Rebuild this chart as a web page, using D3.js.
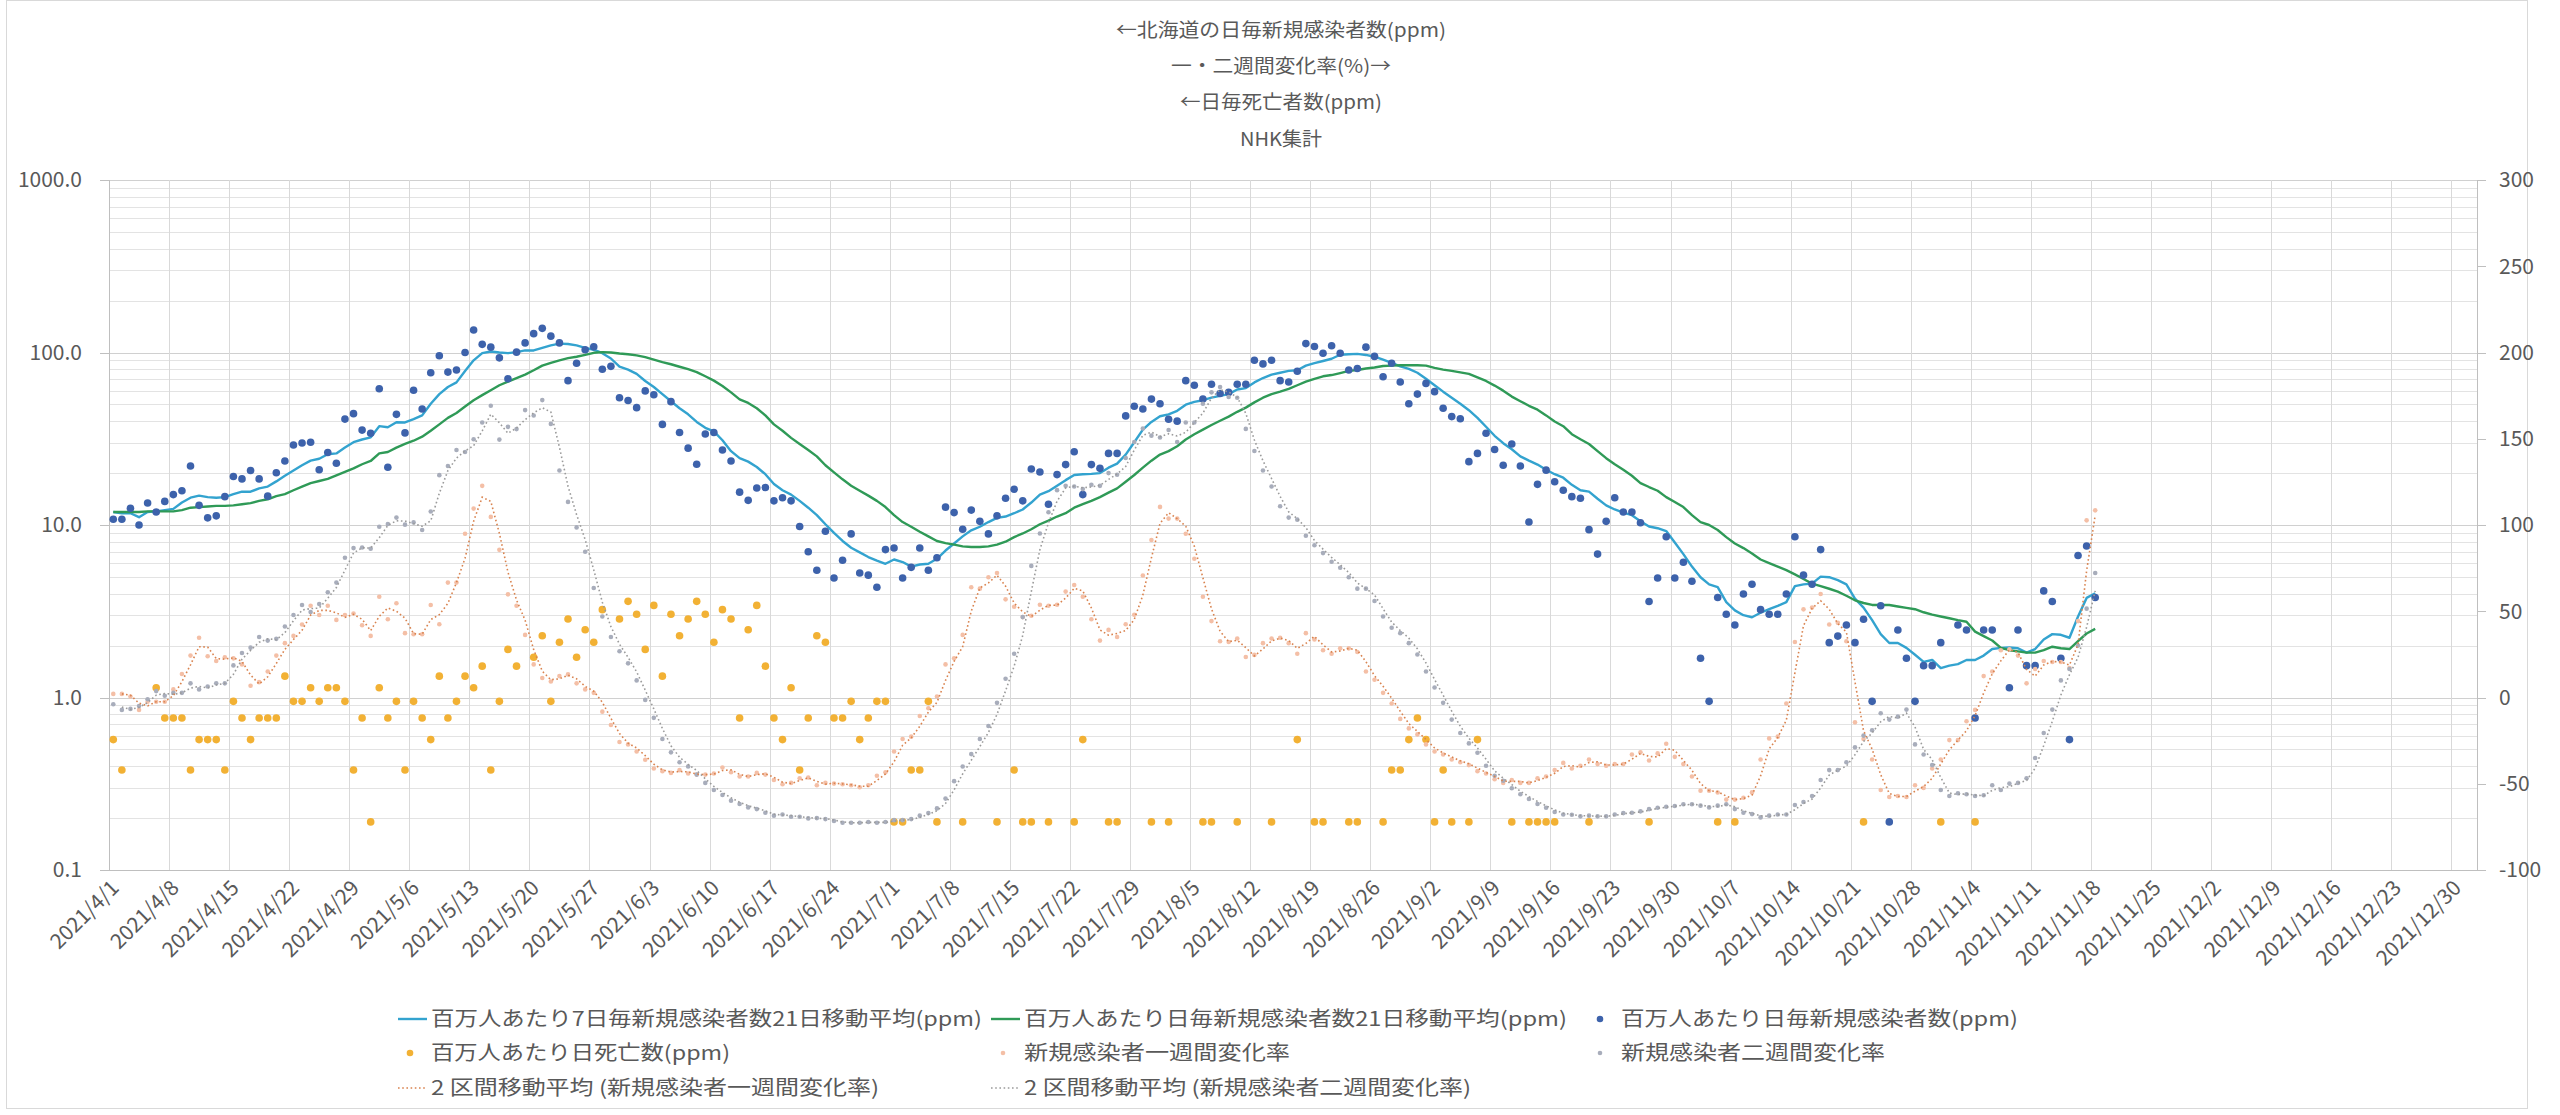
<!DOCTYPE html>
<html><head><meta charset="utf-8">
<script src="https://cdn.jsdelivr.net/npm/d3@7"></script>
<style>
html,body{margin:0;padding:0;background:#fff;}
svg{display:block;}
text{font-family:"Noto Sans CJK JP","Noto Sans",sans-serif;fill:#595959;}
</style></head><body>
<svg id="chart" width="2560" height="1115"></svg>
<script>
// ---------------- DATA ----------------
const startDate = "2021-04-01";          // first category (one value per day)
const axisEndDate = "2022-01-02";        // end of the date axis
const titleLines = ["←北海道の日毎新規感染者数(ppm)", "一・二週間変化率(%)→", "←日毎死亡者数(ppm)", "NHK集計"];
const leftTicks = [0.1, 1, 10, 100, 1000];
const rightTicks = [-100, -50, 0, 50, 100, 150, 200, 250, 300];
const seriesNames = [
  "百万人あたり7日毎新規感染者数21日移動平均(ppm)",
  "百万人あたり日毎新規感染者数21日移動平均(ppm)",
  "百万人あたり日毎新規感染者数(ppm)",
  "百万人あたり日死亡数(ppm)",
  "新規感染者一週間変化率",
  "新規感染者二週間変化率",
  "2 区間移動平均 (新規感染者一週間変化率)",
  "2 区間移動平均 (新規感染者二週間変化率)"
];
// daily new cases per million (left, log)
const newCases = [
  10.8,10.8,12.5,10.0,13.4,11.9,13.7,15.0,15.8,22.0,
  13.0,11.0,11.3,14.6,19.1,18.5,20.7,18.5,14.7,20.1,
  23.5,29.1,29.9,30.2,20.9,26.3,22.8,41.1,44.2,35.5,
  34.0,61.6,21.6,43.8,34.2,60.4,47.0,76.3,95.8,77.0,
  79.2,100,134.9,111.5,107.4,93.1,70.4,100.5,113.7,128.6,
  138,124.4,113.7,68.7,86.7,103.8,107.9,80.0,83.1,54.7,
  52.7,47.9,59.9,56.9,38.3,51.9,34.4,27.9,22.5,33.7,
  34.4,27.2,23.5,15.5,13.9,16.4,16.5,13.8,14.4,13.8,
  9.8,7.0,5.47,9.2,4.93,6.25,8.88,5.27,5.12,4.36,
  7.2,7.35,4.93,5.68,7.35,5.47,6.46,12.7,11.8,9.45,
  12.2,10.5,8.88,11.3,14.3,16.1,13.8,21.1,20.3,13.2,
  19.6,22.4,26.6,15.0,22.4,21.3,26.0,26.0,42.9,48.8,
  47.0,53.7,50.5,41.0,40.0,68.7,64.6,53.7,65.5,57.9,
  58.7,65.5,65.5,90.1,85.9,90.1,68.7,67.4,77.8,112.6,
  108.4,99.1,109.4,99.1,79.2,80.8,107.4,94.9,72.4,86.7,
  67.4,50.5,57.4,66.2,59.3,47.5,42.5,41.3,23.3,26.0,
  34.0,27.4,22.2,29.5,22.0,10.4,17.2,20.8,17.8,15.9,
  14.6,14.3,9.4,6.78,10.5,14.4,11.9,11.9,10.3,3.6,
  4.93,8.55,4.93,6.08,4.72,1.69,0.95,3.8,3.04,2.63,
  3.98,4.53,3.23,3.04,3.04,3.98,8.55,5.12,4.53,7.2,
  2.08,2.27,2.63,2.08,2.84,0.95,3.4,0.19,2.46,1.69,
  0.95,1.53,1.53,2.08,null,2.63,2.46,0.76,2.46,2.46,
  null,1.14,2.46,1.53,1.53,4.15,3.6,1.69,0.57,6.65,
  7.56,3.8
];
// 7-day based 21-day moving average (cyan line)
const avg7 = [
  11.9,11.7,11.7,11.1,11.9,12.0,12.2,12.4,13.5,14.4,
  14.8,14.5,14.4,14.5,15.1,15.6,15.6,16.3,16.7,17.9,
  19.3,20.7,22.2,23.6,24.2,25.7,26.0,28.1,30.2,31.3,
  32.2,37.4,36.9,39.4,39.3,41.1,43.2,50.5,57.4,63.1,
  67.1,78.2,90.1,99.1,101.4,100,99.1,100.5,102.8,102.8,
  106.4,110,112.6,112,110,106.4,103.8,99.1,92.3,82.7,
  79.6,75.2,68.4,63.1,57.4,52.2,47.5,43.8,39.6,36.6,
  34.9,31.0,26.8,24.4,23.3,21.7,19.7,17.3,15.9,15.0,
  13.8,12.6,11.4,10.1,9.0,8.08,7.38,6.94,6.52,6.22,
  5.96,6.31,6.1,5.74,5.9,5.96,6.37,7.11,7.81,8.59,
  9.31,9.77,10.4,11.0,11.2,11.7,12.3,13.5,15.0,15.7,
  16.9,18.2,19.5,19.7,19.8,20.0,21.5,22.7,25.6,30.2,
  35.7,39.6,42.7,43.8,45.9,49.8,51.7,52.9,54.7,56.0,
  57.4,61.0,62.2,67.1,71.1,74.5,76.3,78.2,78.9,83.9,
  86.7,89.3,92,97,97.7,98.2,96.8,94.5,90.9,87.1,
  83.1,80.4,76.3,70.4,64.6,59.3,54.7,50.5,46.3,41.8,
  37.1,32.9,29.8,27.5,25.0,23.6,22.4,20.9,19.7,18.8,
  17.1,15.9,15.6,14.2,13.0,12.3,11.8,11.4,10.5,9.8,
  9.58,9.22,7.92,6.78,5.74,4.98,4.53,4.36,3.57,3.2,
  3.0,2.92,3.1,3.25,3.4,3.57,4.42,4.53,4.57,5.02,
  4.98,4.79,4.53,3.74,3.32,2.81,2.33,2.07,2.07,1.94,
  1.77,1.61,1.65,1.48,1.53,1.56,1.65,1.65,1.75,1.91,
  1.94,1.95,1.93,1.82,1.91,2.17,2.33,2.31,2.22,2.95,
  3.78,4.02
];
// daily cases 21-day moving average (green line)
const avg21 = [
  11.9,11.9,11.9,11.9,12.0,12.0,12.0,12.0,12.2,12.6,
  12.7,12.8,12.9,12.9,13.0,13.2,13.4,13.8,14.1,14.7,
  15.1,15.9,16.7,17.5,18.0,18.5,19.4,20.3,21.3,22.5,
  23.5,26.0,26.5,28.1,29.5,30.8,32.5,35.2,38.3,41.8,
  44.6,48.6,52.9,56.6,60.4,64.6,67.8,71.1,74.5,78.9,
  83.9,87.1,90.1,92.7,94.5,96.8,99.6,100.5,100,98.6,
  97.7,96.3,94.0,90.9,88.0,85.5,82.7,80.0,77.0,72.8,
  68.7,64.0,58.7,53.5,51.0,47.5,43.2,38.3,35.2,32.0,
  29.5,27.2,25.0,22.2,20.2,18.4,16.9,15.8,14.8,13.8,
  12.7,11.4,10.4,9.77,9.14,8.59,8.08,7.85,7.7,7.52,
  7.45,7.45,7.52,7.7,8.0,8.51,8.93,9.45,10.1,10.6,
  11.2,11.7,12.6,13.2,13.8,14.5,15.4,16.3,17.8,19.5,
  21.5,23.6,25.6,26.8,28.6,31.3,33.6,35.7,38.0,40.2,
  42.5,45.3,47.9,51.4,54.7,57.4,59.3,61.6,64.6,67.8,
  70.4,72.8,74,76,78.2,79.2,80.8,81.9,83.5,83.9,
  84.3,84.3,84.3,83.9,81.5,79.6,78.2,76.7,75.2,71.7,
  68.4,64.3,60.1,55.5,52.2,49.1,46.6,43.2,39.8,37.4,
  33.6,31.4,29.5,26.8,24.4,22.5,20.9,19.3,17.5,16.6,
  15.8,14.5,13.6,12.7,11.4,10.4,10.0,9.36,8.51,7.81,
  7.35,6.84,6.31,6.02,5.74,5.47,5.17,4.86,4.57,4.42,
  4.27,4.11,3.89,3.66,3.53,3.44,3.44,3.44,3.37,3.31,
  3.25,3.12,3.02,2.95,2.88,2.81,2.75,2.41,2.27,2.14,
  1.94,1.88,1.85,1.82,1.82,1.88,1.97,1.93,1.91,2.12,
  2.35,2.5
];
// daily deaths per million (left, log); null = no death that day
const deaths = [
  0.57,0.38,null,null,null,1.14,0.76,0.76,0.76,0.38,
  0.57,0.57,0.57,0.38,0.95,0.76,0.57,0.76,0.76,0.76,
  1.33,0.95,0.95,1.14,0.95,1.14,1.14,0.95,0.38,0.76,
  0.19,1.14,0.76,0.95,0.38,0.95,0.76,0.57,1.33,0.76,
  0.95,1.33,1.14,1.52,0.38,0.95,1.90,1.52,null,1.71,
  2.28,0.95,2.09,2.85,1.71,2.47,2.09,3.23,null,2.85,
  3.61,3.04,1.90,3.42,1.33,3.04,2.28,2.85,3.61,3.04,
  2.09,3.23,2.85,0.76,2.47,3.42,1.52,0.76,0.57,1.14,
  0.38,0.76,2.28,2.09,0.76,0.76,0.95,0.57,0.76,0.95,
  0.95,0.19,0.19,0.38,0.38,0.95,0.19,null,null,0.19,
  null,null,null,0.19,null,0.38,0.19,0.19,null,0.19,
  null,null,0.19,0.57,null,null,0.19,0.19,null,null,
  null,0.19,null,0.19,null,null,null,0.19,0.19,null,
  null,0.19,null,null,null,0.19,null,null,0.57,null,
  0.19,0.19,null,null,0.19,0.19,null,null,0.19,0.38,
  0.38,0.57,0.76,0.57,0.19,0.38,0.19,null,0.19,0.57,
  null,null,null,0.19,null,0.19,0.19,0.19,0.19,null,
  null,null,0.19,null,null,null,null,null,null,0.19,
  null,null,null,null,null,null,null,0.19,null,0.19,
  null,null,null,null,null,null,null,null,null,null,
  null,null,null,null,0.19,null,null,null,null,null,
  null,null,null,0.19,null,null,null,0.19,null,null,
  null,null,null,null,null,null,null,null,null,null,
  null,null
];
// one-week change rate (%) (right axis)
const change1w = [
  2.1,2.1,0.6,-7.2,-2.5,-2.5,-2.5,4.7,13.6,24.3,
  34.6,23.9,21.2,23.3,22.7,19.2,6.8,8.9,15.1,24.3,
  31.5,35.7,42.3,53.2,47.8,53.2,45.0,47.8,48.7,41.9,
  35.7,58.4,45.4,54.6,37.3,36.7,36.7,53.6,42.5,66.6,
  66.6,94.9,109.5,122.7,104.7,85.6,59.8,53.2,36.3,19.2,
  11.3,9.3,12.4,13.4,8.2,4.7,2.7,-8.2,-15.9,-25.8,
  -27.2,-31.3,-36.1,-41.2,-42.7,-43.7,-42.1,-44.1,-44.7,-44.7,
  -44.1,-40.6,-43.3,-45.8,-45.8,-43.7,-44.7,-47.8,-50.3,-49.5,
  -46.8,-46.4,-50.9,-49.5,-49.9,-50.3,-50.9,-52.0,-50.9,-45.4,
  -43.3,-31.3,-24.1,-22.7,-10.7,-6.2,0.6,19.2,22.7,36.3,
  63.9,63.1,69.7,72.2,56.9,52.6,46.6,47.4,53.8,53.2,
  53.8,61.4,65.2,58.4,45.4,33.0,39.2,35.1,42.5,48.0,
  70.7,91.3,110.5,103.7,103.7,94.9,80.4,58.4,44.3,32.6,
  32.2,34.2,23.5,24.7,31.5,34.2,34.6,31.5,25.4,37.3,
  33.6,27.4,25.4,28.5,28.5,26.4,15.1,10.3,2.7,-3.5,
  -12.4,-17.9,-21.4,-27.2,-31.3,-33.0,-35.9,-37.5,-39.2,-42.7,
  -44.1,-47.4,-49.5,-47.8,-49.5,-49.5,-46.8,-45.8,-42.1,-37.9,
  -41.2,-39.6,-35.9,-38.6,-39.6,-38.6,-38.6,-33.0,-31.8,-36.5,
  -32.4,-26.8,-34.4,-38.6,-45.8,-54.0,-54.0,-55.1,-59.2,-59.2,
  -58.1,-55,-35.9,-23.7,-22.7,-3.5,32.2,51.1,52.2,60.0,
  42.3,43.3,32.6,-14.4,-24.1,-35.9,-53.6,-57.7,-57.1,-57.7,
  -50.9,-52.4,-41.2,-35.9,-24.7,-24.7,-13.8,-7.2,12.4,15.1,
  27.4,28.0,24.3,8.2,16.5,21.2,20.6,20.6,17.1,44.3,
  102.7,108.5
];
// two-week change rate (%) (right axis)
const change2w = [
  -3.9,-7.2,-6.6,-4.9,-1.0,3.7,1.0,2.7,2.7,8.2,
  4.7,6.4,8.2,8.2,18.6,25.8,28.9,35.1,33.0,34.0,
  41.2,47.8,53.6,49.5,54.2,61.0,66.6,81.0,86.6,87.0,
  86.2,99.0,100.6,104.3,100.2,101.5,97.1,107.8,128.9,134.2,
  143.5,142.3,149.7,159.4,169.1,149.5,156.9,155.6,166.6,163.5,
  172.4,158.6,131.6,113.4,98.6,84.5,63.5,47.0,35.1,26.8,
  19.8,9.9,-1.4,-11.8,-24.1,-31.8,-37.5,-40.0,-44.7,-49.5,
  -53.6,-56.5,-59.8,-61.7,-63.7,-64.7,-66.8,-68.5,-67.8,-69.1,
  -69.1,-70.1,-69.9,-70.5,-71.6,-72.6,-72.6,-72.6,-72.2,-72.6,
  -72.2,-71.1,-71.1,-70.5,-68.5,-67.0,-64.3,-58.6,-48.5,-40.0,
  -32.8,-24.1,-16.5,-3.1,10.9,25.4,46.6,76.3,95.1,107.4,
  120.2,122.7,122.3,120.8,123.3,122.7,130.1,129.1,138.8,148.1,
  155.9,151.8,150.7,155.1,148.1,159.4,159.4,170.3,176.9,180.0,
  174.2,173.8,155.7,142.9,131.6,122.3,110.9,104.3,103.1,93.8,
  88.3,83.7,78.7,75.2,69.7,63.1,63.1,55.9,47.0,40.4,
  37.3,31.5,24.9,15.1,5.8,-3.1,-12.8,-20.6,-26.6,-32.0,
  -39.6,-45.4,-48.3,-52.6,-56.1,-58.8,-61.7,-63.9,-66.4,-67.8,
  -68.0,-68.9,-68.5,-68.9,-68.9,-67.8,-67.0,-66.8,-66.0,-64.7,
  -63.9,-63.3,-62.9,-61.9,-61.9,-62.7,-63.7,-62.7,-61.9,-64.7,
  -66.8,-67.6,-69.5,-68.5,-67.8,-67.8,-62.3,-60.6,-57.1,-47.8,
  -42.1,-42.1,-37.5,-28.9,-22.1,-19.0,-9.1,-12.8,-11.1,-7.0,
  -27.2,-33.0,-39.2,-53.6,-57.1,-55.5,-56.1,-57.1,-56.7,-50.9,
  -53.6,-49.9,-49.5,-46.8,-35.1,-20.6,-7.0,9.9,16.5,30.1,
  51.5,72.2
];

// ---------------- CHART ----------------
const W = 2560, H = 1115;
const M = {left: 109, right: 2477, top: 180, bottom: 870};
const svg = d3.select("#chart");
svg.append("rect").attr("width", W).attr("height", H).attr("fill", "#fff");
// chart frame
svg.append("rect").attr("x", 6.5).attr("y", 0.5).attr("width", 2521).attr("height", 1108)
  .attr("fill", "none").attr("stroke", "#d9d9d9").attr("stroke-width", 1);

const parse = d3.utcParse("%Y-%m-%d");
const d0 = parse(startDate), dEnd = parse(axisEndDate);
const dates = newCases.map((_, i) => d3.utcDay.offset(d0, i));
const x = d3.scaleUtc().domain([d0, dEnd]).range([M.left, M.right]);
const half = (x(d3.utcDay.offset(d0, 1)) - x(d0)) / 2;
const cx = i => x(dates[i]) + half;
const yL = d3.scaleLog().domain([0.1, 1000]).range([M.bottom, M.top]);
const yR = d3.scaleLinear().domain([-100, 300]).range([M.bottom, M.top]);

// gridlines: horizontal log minor + major
const g = svg.append("g");
const minorVals = [];
[0.1, 1, 10, 100].forEach(dec => { for (let m = 2; m <= 9; m++) minorVals.push(dec * m); });
g.selectAll(".hmin").data(minorVals).join("line")
  .attr("x1", M.left).attr("x2", M.right)
  .attr("y1", d => Math.round(yL(d)) + 0.5).attr("y2", d => Math.round(yL(d)) + 0.5)
  .attr("stroke", "#e3e3e3").attr("stroke-width", 1);
g.selectAll(".hmaj").data(leftTicks).join("line")
  .attr("x1", M.left).attr("x2", M.right)
  .attr("y1", d => Math.round(yL(d)) + 0.5).attr("y2", d => Math.round(yL(d)) + 0.5)
  .attr("stroke", "#d0d0d0").attr("stroke-width", 1.2);
// vertical weekly gridlines
const weekTicks = d3.utcDay.range(d0, dEnd, 7).filter(d => d <= parse("2021-12-30"));
g.selectAll(".vg").data(weekTicks).join("line")
  .attr("x1", d => Math.round(x(d)) + 0.5).attr("x2", d => Math.round(x(d)) + 0.5)
  .attr("y1", M.top).attr("y2", M.bottom)
  .attr("stroke", "#d9d9d9").attr("stroke-width", 1);

// axes lines
const axc = "#bfbfbf";
svg.append("line").attr("x1", M.left + 0.5).attr("x2", M.left + 0.5).attr("y1", M.top).attr("y2", M.bottom).attr("stroke", axc);
svg.append("line").attr("x1", M.right + 0.5).attr("x2", M.right + 0.5).attr("y1", M.top).attr("y2", M.bottom).attr("stroke", axc);
svg.append("line").attr("x1", M.left).attr("x2", M.right).attr("y1", M.bottom + 0.5).attr("y2", M.bottom + 0.5).attr("stroke", axc);

// left axis
const fmt1 = d3.format(".1f");
svg.selectAll(".lt").data(leftTicks).join("line")
  .attr("x1", M.left - 9).attr("x2", M.left)
  .attr("y1", d => Math.round(yL(d)) + 0.5).attr("y2", d => Math.round(yL(d)) + 0.5).attr("stroke", axc);
svg.selectAll(".ll").data(leftTicks).join("text")
  .attr("x", 82).attr("y", d => yL(d)).attr("dy", "0.35em")
  .attr("text-anchor", "end").attr("font-size", 21).text(d => fmt1(d));
// right axis
svg.selectAll(".rt").data(rightTicks).join("line")
  .attr("x1", M.right).attr("x2", M.right + 9)
  .attr("y1", d => Math.round(yR(d)) + 0.5).attr("y2", d => Math.round(yR(d)) + 0.5).attr("stroke", axc);
svg.selectAll(".rl").data(rightTicks).join("text")
  .attr("x", 2499).attr("y", d => yR(d)).attr("dy", "0.35em")
  .attr("text-anchor", "start").attr("font-size", 21).text(d => d);
// bottom date labels
const fmtDate = d => `${d.getUTCFullYear()}/${d.getUTCMonth() + 1}/${d.getUTCDate()}`;
svg.selectAll(".xl").data(weekTicks).join("text")
  .attr("transform", d => `translate(${x(d) + 6},${M.bottom + 14}) rotate(-45)`)
  .attr("text-anchor", "end").attr("dy", "0.35em").attr("font-size", 21).text(fmtDate);

// ---------------- SERIES ----------------
const plot = svg.append("g");
const lineL = (arr) => d3.line().defined((d, i) => arr[i] != null).x((d, i) => cx(i)).y((d, i) => yL(arr[i]))(arr);
// moving average (2 periods) computed from the change-rate series, drawn like Excel trendline
const ma2 = arr => arr.map((v, i) => i === 0 ? null : (arr[i - 1] + v) / 2);

const C = {cyan: "#33a3cf", green: "#2f9a57", blue: "#3d62ab", gold: "#f2b134",
           peach: "#f4bfa6", gray: "#a8adbb", peachLine: "#d9834f", grayLine: "#9b9b9b"};

// primary series
plot.append("path").attr("d", lineL(avg7)).attr("fill", "none").attr("stroke", C.cyan).attr("stroke-width", 2.4).attr("stroke-linejoin", "round");
plot.append("path").attr("d", lineL(avg21)).attr("fill", "none").attr("stroke", C.green).attr("stroke-width", 2.4).attr("stroke-linejoin", "round");
plot.selectAll(".bd").data(newCases.map((v, i) => [i, v]).filter(d => d[1] != null)).join("circle")
  .attr("cx", d => cx(d[0])).attr("cy", d => yL(d[1])).attr("r", 3.8).attr("fill", C.blue);
plot.selectAll(".od").data(deaths.map((v, i) => [i, v]).filter(d => d[1] != null)).join("circle")
  .attr("cx", d => cx(d[0])).attr("cy", d => yL(d[1])).attr("r", 3.8).attr("fill", C.gold);
// secondary series
plot.selectAll(".pd").data(change1w.map((v, i) => [i, v])).join("circle")
  .attr("cx", d => cx(d[0])).attr("cy", d => yR(d[1])).attr("r", 2.3).attr("fill", C.peach);
plot.selectAll(".gd").data(change2w.map((v, i) => [i, v])).join("circle")
  .attr("cx", d => cx(d[0])).attr("cy", d => yR(d[1])).attr("r", 2.3).attr("fill", C.gray);
const lineR = arr => d3.line().defined(d => d != null).x((d, i) => cx(i)).y(d => yR(d))(arr);
plot.append("path").attr("d", lineR(ma2(change1w))).attr("fill", "none").attr("stroke", C.peachLine)
  .attr("stroke-width", 1.6).attr("stroke-dasharray", "1.6,2.6");
plot.append("path").attr("d", lineR(ma2(change2w))).attr("fill", "none").attr("stroke", C.grayLine)
  .attr("stroke-width", 1.6).attr("stroke-dasharray", "1.6,2.6");

// ---------------- TITLE ----------------
const titleY = [30, 66, 102, 139];
const titleW = [330, 220, 202, 82];
svg.selectAll(".tt").data(titleLines).join("text")
  .attr("x", 1281).attr("y", (d, i) => titleY[i]).attr("dy", "0.35em")
  .attr("text-anchor", "middle").attr("font-size", 19)
  .attr("textLength", (d, i) => titleW[i]).attr("lengthAdjust", "spacingAndGlyphs")
  .text(d => d);

// ---------------- LEGEND ----------------
const legItems = [
  {name: seriesNames[0], type: "line", color: C.cyan, col: 0, row: 0, w: 551},
  {name: seriesNames[1], type: "line", color: C.green, col: 1, row: 0, w: 543},
  {name: seriesNames[2], type: "dot", color: C.blue, col: 2, row: 0, w: 397},
  {name: seriesNames[3], type: "dot", color: C.gold, col: 0, row: 1, w: 299},
  {name: seriesNames[4], type: "dot", color: C.peach, col: 1, row: 1, w: 266},
  {name: seriesNames[5], type: "dot", color: C.gray, col: 2, row: 1, w: 264},
  {name: seriesNames[6], type: "dash", color: C.peachLine, col: 0, row: 2, w: 448},
  {name: seriesNames[7], type: "dash", color: C.grayLine, col: 1, row: 2, w: 447}
];
const colX = [398, 991, 1588];
const rowY = [1019, 1053, 1088];
const lg = svg.append("g");
legItems.forEach(it => {
  const x0 = colX[it.col], y0 = rowY[it.row];
  if (it.type === "line") lg.append("line").attr("x1", x0).attr("x2", x0 + 29).attr("y1", y0).attr("y2", y0).attr("stroke", it.color).attr("stroke-width", 2.4);
  else if (it.type === "dash") lg.append("line").attr("x1", x0).attr("x2", x0 + 29).attr("y1", y0).attr("y2", y0).attr("stroke", it.color).attr("stroke-width", 1.6).attr("stroke-dasharray", "1.6,2.6");
  else lg.append("circle").attr("cx", x0 + 12).attr("cy", y0).attr("r", it.color === C.blue || it.color === C.gold ? 3.3 : 2.3).attr("fill", it.color);
  lg.append("text").attr("x", x0 + 33).attr("y", y0).attr("dy", "0.35em").attr("font-size", 20)
    .attr("textLength", it.w).attr("lengthAdjust", "spacingAndGlyphs").text(it.name);
});
</script>
</body></html>
